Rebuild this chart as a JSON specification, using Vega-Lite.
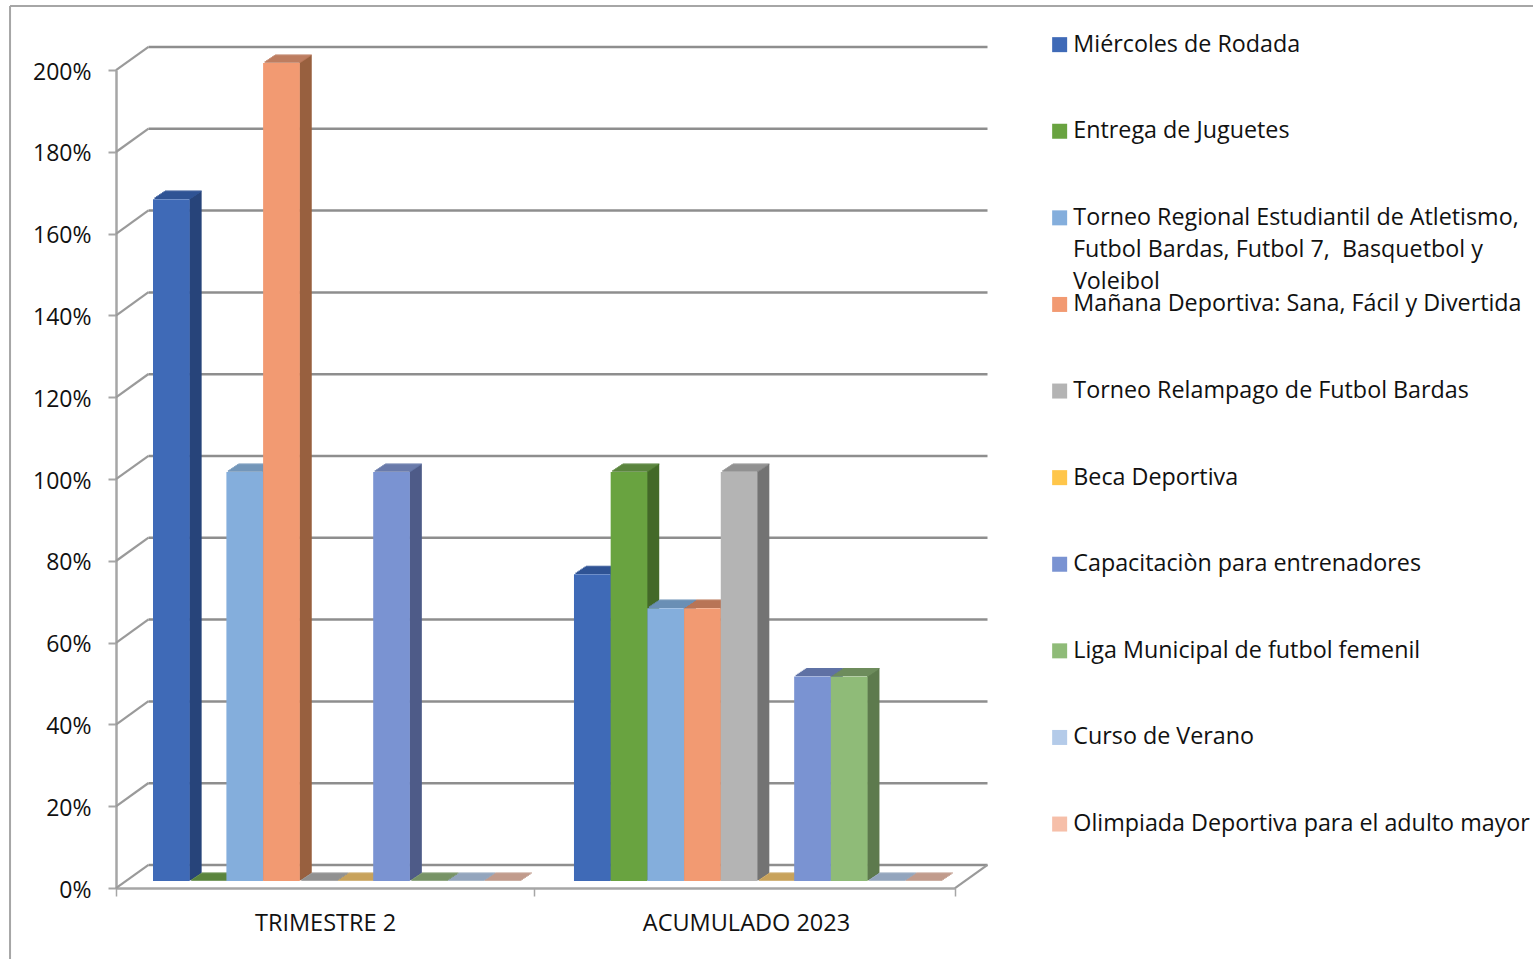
{"$schema":"https://vega.github.io/schema/vega-lite/v6.json","width":839,"height":818,"autosize":{"type":"none"},"padding":{"left":116,"top":70,"right":578,"bottom":71},"background":"white","config":{"font":"Open Sans","view":{"stroke":null},"text":{"font":"Open Sans"}},
"datasets":{"ticks":[{"t":0},{"t":0.2},{"t":0.4},{"t":0.6},{"t":0.8},{"t":1},{"t":1.2},{"t":1.4},{"t":1.6},{"t":1.8},{"t":2}],
"bars":[
{"periodo":"TRIMESTRE 2","serie":"Miércoles de Rodada","valor":1.667},
{"periodo":"TRIMESTRE 2","serie":"Entrega de Juguetes","valor":0},
{"periodo":"TRIMESTRE 2","serie":"Torneo Regional Estudiantil de Atletismo, Futbol Bardas, Futbol 7,  Basquetbol y Voleibol","valor":1},
{"periodo":"TRIMESTRE 2","serie":"Mañana Deportiva: Sana, Fácil y Divertida","valor":2},
{"periodo":"TRIMESTRE 2","serie":"Torneo Relampago de Futbol Bardas","valor":0},
{"periodo":"TRIMESTRE 2","serie":"Beca Deportiva","valor":0},
{"periodo":"TRIMESTRE 2","serie":"Capacitaciòn para entrenadores","valor":1},
{"periodo":"TRIMESTRE 2","serie":"Liga Municipal de futbol femenil","valor":0},
{"periodo":"TRIMESTRE 2","serie":"Curso de Verano","valor":0},
{"periodo":"TRIMESTRE 2","serie":"Olimpiada Deportiva para el adulto mayor","valor":0},
{"periodo":"ACUMULADO 2023","serie":"Miércoles de Rodada","valor":0.75},
{"periodo":"ACUMULADO 2023","serie":"Entrega de Juguetes","valor":1},
{"periodo":"ACUMULADO 2023","serie":"Torneo Regional Estudiantil de Atletismo, Futbol Bardas, Futbol 7,  Basquetbol y Voleibol","valor":0.667},
{"periodo":"ACUMULADO 2023","serie":"Mañana Deportiva: Sana, Fácil y Divertida","valor":0.667},
{"periodo":"ACUMULADO 2023","serie":"Torneo Relampago de Futbol Bardas","valor":1},
{"periodo":"ACUMULADO 2023","serie":"Beca Deportiva","valor":0},
{"periodo":"ACUMULADO 2023","serie":"Capacitaciòn para entrenadores","valor":0.5},
{"periodo":"ACUMULADO 2023","serie":"Liga Municipal de futbol femenil","valor":0.5},
{"periodo":"ACUMULADO 2023","serie":"Curso de Verano","valor":0},
{"periodo":"ACUMULADO 2023","serie":"Olimpiada Deportiva para el adulto mayor","valor":0}]},
"resolve":{"scale":{"x":"independent"},"axis":{"x":"independent"}},
"layer":[
{"encoding":{"x":{"datum":0,"type":"quantitative","scale":{"domain":[0,1],"nice":false,"zero":false},"axis":null}},
"layer":[
{"data":{"name":"ticks"},"mark":{"type":"rule","stroke":"#a6a6a6","strokeWidth":2,"clip":false},"transform":[{"filter":"datum.t==0"}],"encoding":{"x":{"datum":-0.1263,"type":"quantitative"},"x2":{"datum":1.69},"y":{"datum":2.1565,"type":"quantitative"}}},
{"data":{"name":"ticks"},"mark":{"type":"rule","stroke":"#a6a6a6","strokeWidth":2},"transform":[{"filter":"datum.t==0"}],"encoding":{"x":{"datum":-0.1263,"type":"quantitative"},"y":{"datum":2.1565,"type":"quantitative"},"y2":{"datum":-0.2}}},
{"data":{"name":"ticks"},"mark":{"type":"rule","stroke":"#8e8e8e","strokeWidth":2.5,"xOffset":32.5,"x2Offset":32.5,"yOffset":-23,"y2Offset":-23},"encoding":{"x":{"datum":0,"type":"quantitative"},"x2":{"datum":1},"y":{"field":"t","type":"quantitative"}}},
{"data":{"name":"ticks"},"mark":{"type":"point","shape":"M-1,0.72L1,-0.72","size":1056,"filled":false,"opacity":1,"stroke":"#9a9a9a","strokeWidth":2.2,"xOffset":16.25,"yOffset":-11.5},"encoding":{"x":{"datum":0,"type":"quantitative"},"y":{"field":"t","type":"quantitative"}}},
{"data":{"name":"ticks"},"mark":{"type":"point","shape":"M-1,0.72L1,-0.72","size":1056,"filled":false,"opacity":1,"stroke":"#9a9a9a","strokeWidth":2.2,"xOffset":16.25,"yOffset":-11.5},"transform":[{"filter":"datum.t==0"}],"encoding":{"x":{"datum":1,"type":"quantitative"},"y":{"field":"t","type":"quantitative"}}},
{"data":{"values":[{"linea":"Futbol Bardas, Futbol 7,\u00a0 Basquetbol y","y":1.5598},{"linea":"Voleibol","y":1.4817}]},"mark":{"type":"text","align":"left","baseline":"middle","font":"Open Sans","fontSize":23.3,"color":"#111111"},"encoding":{"x":{"datum":1.1406,"type":"quantitative"},"y":{"field":"y","type":"quantitative"},"text":{"field":"linea"}}}
]},
{"data":{"name":"bars"},
"resolve":{"scale":{"xOffset":"independent"}},
"encoding":{
"x":{"field":"periodo","type":"nominal","sort":null,"scale":{"paddingInner":0.007,"paddingOuter":0},"axis":{"orient":"bottom","title":null,"labelAngle":0,"tickBand":"extent","tickExtra":true,"tickSize":8,"tickColor":"#a6a6a6","tickWidth":1.5,"domainColor":"#a6a6a6","domainWidth":2.5,"labelFontSize":23.5,"labelColor":"#111111","labelPadding":15,"labelLimit":400,"labelFont":"Open Sans"}},
"y":{"field":"valor","type":"quantitative","stack":null,"scale":{"domain":[0,2],"nice":false},"axis":{"title":null,"values":[0,0.2,0.4,0.6,0.8,1,1.2,1.4,1.6,1.8,2],"format":".0%","grid":false,"tickSize":8,"tickColor":"#a6a6a6","tickWidth":2,"domainColor":"#a6a6a6","domainWidth":2.5,"labelFontSize":23,"labelColor":"#111111","labelPadding":17,"labelOffset":2,"labelFont":"Open Sans"}}},
"layer":[
{"mark":{"type":"rule","opacity":1,"strokeWidth":2,"yOffset":-7.67,"y2Offset":-7.67},"encoding":{"xOffset":{"field":"serie","type":"nominal","sort":null,"scale":{"paddingInner":0,"paddingOuter":0.695,"range":[30.35,448.35]}},"y2":{"datum":0},"stroke":{"field":"serie","type":"nominal","sort":null,"legend":null,"scale":{"domain":["Olimpiada Deportiva para el adulto mayor","Curso de Verano","Liga Municipal de futbol femenil","Capacitaciòn para entrenadores","Beca Deportiva","Torneo Relampago de Futbol Bardas","Mañana Deportiva: Sana, Fácil y Divertida","Torneo Regional Estudiantil de Atletismo, Futbol Bardas, Futbol 7,  Basquetbol y Voleibol","Entrega de Juguetes","Miércoles de Rodada"],"range":["#A07A6C","#758599","#5E7A4E","#4E5C88","#A67F2F","#747474","#98603F","#567390","#446A29","#28457A"]}}}},
{"mark":{"type":"rule","opacity":1,"strokeWidth":2,"yOffset":-8.34,"y2Offset":-8.34},"encoding":{"xOffset":{"field":"serie","type":"nominal","sort":null,"scale":{"paddingInner":0,"paddingOuter":0.695,"range":[31.35,449.35]}},"y2":{"datum":0},"stroke":{"field":"serie","type":"nominal","sort":null,"legend":null}}},
{"mark":{"type":"rule","opacity":1,"strokeWidth":2,"yOffset":-9,"y2Offset":-9},"encoding":{"xOffset":{"field":"serie","type":"nominal","sort":null,"scale":{"paddingInner":0,"paddingOuter":0.695,"range":[32.35,450.35]}},"y2":{"datum":0},"stroke":{"field":"serie","type":"nominal","sort":null,"legend":null}}},
{"mark":{"type":"rule","opacity":1,"strokeWidth":2,"yOffset":-9.67,"y2Offset":-9.67},"encoding":{"xOffset":{"field":"serie","type":"nominal","sort":null,"scale":{"paddingInner":0,"paddingOuter":0.695,"range":[33.35,451.35]}},"y2":{"datum":0},"stroke":{"field":"serie","type":"nominal","sort":null,"legend":null}}},
{"mark":{"type":"rule","opacity":1,"strokeWidth":2,"yOffset":-10.34,"y2Offset":-10.34},"encoding":{"xOffset":{"field":"serie","type":"nominal","sort":null,"scale":{"paddingInner":0,"paddingOuter":0.695,"range":[34.35,452.35]}},"y2":{"datum":0},"stroke":{"field":"serie","type":"nominal","sort":null,"legend":null}}},
{"mark":{"type":"rule","opacity":1,"strokeWidth":2,"yOffset":-11,"y2Offset":-11},"encoding":{"xOffset":{"field":"serie","type":"nominal","sort":null,"scale":{"paddingInner":0,"paddingOuter":0.695,"range":[35.35,453.35]}},"y2":{"datum":0},"stroke":{"field":"serie","type":"nominal","sort":null,"legend":null}}},
{"mark":{"type":"rule","opacity":1,"strokeWidth":2,"yOffset":-11.67,"y2Offset":-11.67},"encoding":{"xOffset":{"field":"serie","type":"nominal","sort":null,"scale":{"paddingInner":0,"paddingOuter":0.695,"range":[36.35,454.35]}},"y2":{"datum":0},"stroke":{"field":"serie","type":"nominal","sort":null,"legend":null}}},
{"mark":{"type":"rule","opacity":1,"strokeWidth":2,"yOffset":-12.34,"y2Offset":-12.34},"encoding":{"xOffset":{"field":"serie","type":"nominal","sort":null,"scale":{"paddingInner":0,"paddingOuter":0.695,"range":[37.35,455.35]}},"y2":{"datum":0},"stroke":{"field":"serie","type":"nominal","sort":null,"legend":null}}},
{"mark":{"type":"rule","opacity":1,"strokeWidth":2,"yOffset":-13,"y2Offset":-13},"encoding":{"xOffset":{"field":"serie","type":"nominal","sort":null,"scale":{"paddingInner":0,"paddingOuter":0.695,"range":[38.35,456.35]}},"y2":{"datum":0},"stroke":{"field":"serie","type":"nominal","sort":null,"legend":null}}},
{"mark":{"type":"rule","opacity":1,"strokeWidth":2,"yOffset":-13.67,"y2Offset":-13.67},"encoding":{"xOffset":{"field":"serie","type":"nominal","sort":null,"scale":{"paddingInner":0,"paddingOuter":0.695,"range":[39.35,457.35]}},"y2":{"datum":0},"stroke":{"field":"serie","type":"nominal","sort":null,"legend":null}}},
{"mark":{"type":"rule","opacity":1,"strokeWidth":2,"yOffset":-14.34,"y2Offset":-14.34},"encoding":{"xOffset":{"field":"serie","type":"nominal","sort":null,"scale":{"paddingInner":0,"paddingOuter":0.695,"range":[40.35,458.35]}},"y2":{"datum":0},"stroke":{"field":"serie","type":"nominal","sort":null,"legend":null}}},
{"mark":{"type":"rule","opacity":1,"strokeWidth":1.4,"yOffset":-15,"y2Offset":-15},"encoding":{"xOffset":{"field":"serie","type":"nominal","sort":null,"scale":{"paddingInner":0,"paddingOuter":0.695,"range":[41,459]}},"y2":{"datum":0},"stroke":{"field":"serie","type":"nominal","sort":null,"legend":null}}},
{"mark":{"type":"tick","orient":"horizontal","opacity":1,"size":36.7,"thickness":1.7,"yOffset":-8},"encoding":{"xOffset":{"field":"serie","type":"nominal","sort":null,"scale":{"paddingInner":0,"paddingOuter":0.695,"range":[13,431]}},"color":{"field":"serie","type":"nominal","sort":null,"legend":null,"scale":{"domain":["Entrega de Juguetes","Miércoles de Rodada","Torneo Regional Estudiantil de Atletismo, Futbol Bardas, Futbol 7,  Basquetbol y Voleibol","Mañana Deportiva: Sana, Fácil y Divertida","Torneo Relampago de Futbol Bardas","Beca Deportiva","Capacitaciòn para entrenadores","Liga Municipal de futbol femenil","Curso de Verano","Olimpiada Deportiva para el adulto mayor"],"range":["#4F7D30","#2F5394","#6A8FB5","#B87456","#8A8A8A","#C49C50","#5F72A5","#6E8C5C","#8C9FB8","#BC9484"]}}}},
{"mark":{"type":"tick","orient":"horizontal","opacity":1,"size":36.7,"thickness":1.7,"yOffset":-9},"encoding":{"xOffset":{"field":"serie","type":"nominal","sort":null,"scale":{"paddingInner":0,"paddingOuter":0.695,"range":[14.5,432.5]}},"color":{"field":"serie","type":"nominal","sort":null,"legend":null}}},
{"mark":{"type":"tick","orient":"horizontal","opacity":1,"size":36.7,"thickness":1.7,"yOffset":-10},"encoding":{"xOffset":{"field":"serie","type":"nominal","sort":null,"scale":{"paddingInner":0,"paddingOuter":0.695,"range":[16,434]}},"color":{"field":"serie","type":"nominal","sort":null,"legend":null}}},
{"mark":{"type":"tick","orient":"horizontal","opacity":1,"size":36.7,"thickness":1.7,"yOffset":-11},"encoding":{"xOffset":{"field":"serie","type":"nominal","sort":null,"scale":{"paddingInner":0,"paddingOuter":0.695,"range":[17.5,435.5]}},"color":{"field":"serie","type":"nominal","sort":null,"legend":null}}},
{"mark":{"type":"tick","orient":"horizontal","opacity":1,"size":36.7,"thickness":1.7,"yOffset":-12},"encoding":{"xOffset":{"field":"serie","type":"nominal","sort":null,"scale":{"paddingInner":0,"paddingOuter":0.695,"range":[19,437]}},"color":{"field":"serie","type":"nominal","sort":null,"legend":null}}},
{"mark":{"type":"tick","orient":"horizontal","opacity":1,"size":36.7,"thickness":1.7,"yOffset":-13},"encoding":{"xOffset":{"field":"serie","type":"nominal","sort":null,"scale":{"paddingInner":0,"paddingOuter":0.695,"range":[20.5,438.5]}},"color":{"field":"serie","type":"nominal","sort":null,"legend":null}}},
{"mark":{"type":"tick","orient":"horizontal","opacity":1,"size":36.7,"thickness":1.7,"yOffset":-14},"encoding":{"xOffset":{"field":"serie","type":"nominal","sort":null,"scale":{"paddingInner":0,"paddingOuter":0.695,"range":[22,440]}},"color":{"field":"serie","type":"nominal","sort":null,"legend":null}}},
{"mark":{"type":"tick","orient":"horizontal","opacity":1,"size":36.7,"thickness":1.2,"yOffset":-15},"encoding":{"xOffset":{"field":"serie","type":"nominal","sort":null,"scale":{"paddingInner":0,"paddingOuter":0.695,"range":[23.5,441.5]}},"color":{"field":"serie","type":"nominal","sort":null,"legend":null}}},
{"mark":{"type":"bar","opacity":1,"yOffset":-7,"y2Offset":-7},"encoding":{"xOffset":{"field":"serie","type":"nominal","sort":null,"scale":{"paddingInner":0,"paddingOuter":0.695,"range":[11.5,429.5]}},"y2":{"datum":0},"fill":{"field":"serie","type":"nominal","sort":null,"scale":{"domain":["Miércoles de Rodada","Entrega de Juguetes","Torneo Regional Estudiantil de Atletismo, Futbol Bardas, Futbol 7,  Basquetbol y Voleibol","Mañana Deportiva: Sana, Fácil y Divertida","Torneo Relampago de Futbol Bardas","Beca Deportiva","Capacitaciòn para entrenadores","Liga Municipal de futbol femenil","Curso de Verano","Olimpiada Deportiva para el adulto mayor"],"range":["#3F6AB7","#69A340","#84AEDC","#F29A72","#B4B4B4","#FFC64A","#7A93D2","#8FBB78","#B4CBE9","#F6BFA9"]},"legend":{"orient":"none","legendX":932,"legendY":-37,"title":null,"symbolType":"square","symbolSize":225,"symbolStrokeWidth":0,"labelFontSize":23.3,"labelFont":"Open Sans","labelColor":"#111111","labelLimit":600,"labelOffset":2,"rowPadding":62.6,"labelExpr":"indexof(datum.label,'Torneo Regional')==0 ? 'Torneo Regional Estudiantil de Atletismo,' : datum.label"}}}}
]}
]}
